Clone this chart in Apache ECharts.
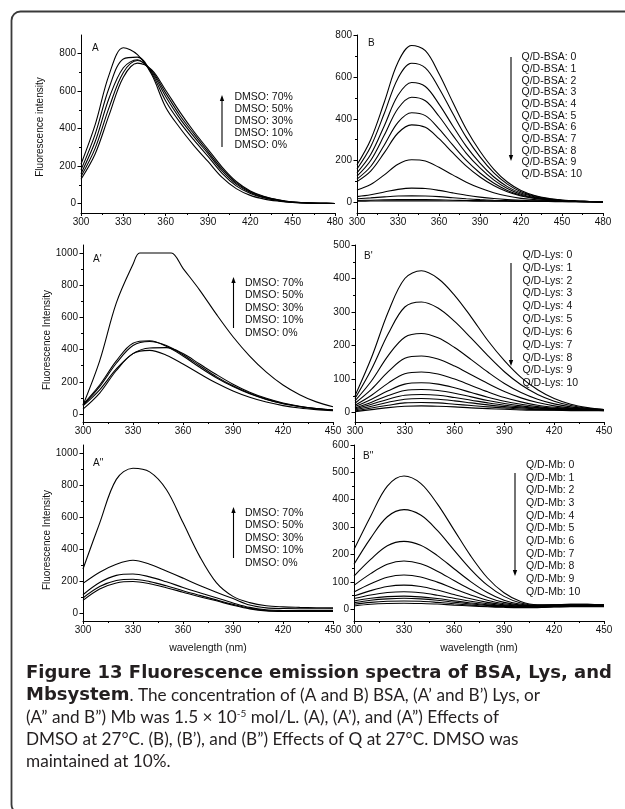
<!DOCTYPE html>
<html><head><meta charset="utf-8">
<script src="https://cdn.jsdelivr.net/npm/echarts@6/dist/echarts.min.js"></script>
<style>html,body{margin:0;padding:0;background:#fff}#c{width:625px;height:809px}</style>
</head><body><div id="c"></div>
<script>
// ---------- DATA ----------
const wlBSA = [300,310,320,330,340,350,360,370,380,390,400,410,420,430,440,450,460,470,480];
const wl = [300,310,320,330,340,350,360,370,380,390,400,410,420,430,440,450];
const wlLysDmso70 = [300,310,320,330,334,340,350,353,360,370,380,390,400,410,420,430,440,450];

// Panel A : BSA, DMSO effect
const bsaDmso70 = [210,420,690,832,795,690,515,405,310,225,140,80,44,24,13,6,3,2,1];
const bsaDmso50 = [180,370,620,772,782,697,548,435,340,252,162,95,54,30,16,7,3,2,1];
const bsaDmso30 = [160,330,565,725,768,704,572,455,358,267,175,104,60,33,17,8,4,2,1];
const bsaDmso10 = [145,295,515,700,764,710,590,472,372,278,185,111,64,36,19,8,4,2,1];
const bsaDmso0  = [130,265,475,675,750,715,605,490,385,290,195,118,68,38,20,9,4,2,1];

// Panel B : BSA, Q/D ratio
const bsaQ0  = [180,300,480,670,750,725,615,480,350,245,160,98,58,34,20,12,7,5,3];
const bsaQ1  = [160,266,426,594,665,643,546,426,311,218,143,88,52,31,18,11,7,5,3];
const bsaQ2  = [142,229,367,512,573,554,470,367,268,188,123,76,45,27,16,10,7,5,3];
const bsaQ3  = [126,201,322,449,503,486,412,322,235,165,108,67,40,24,15,10,7,5,3];
const bsaQ4  = [112,172,275,383,429,415,352,275,201,141,93,58,35,21,14,9,6,4,3];
const bsaQ5  = [100,150,238,332,371,359,305,238,174,122,81,51,31,19,13,8,6,4,3];
const bsaQ6  = [60,86,132,183,204,198,168,132,97,69,47,31,20,14,10,7,5,4,3];
const bsaQ7  = [28,37,50,63,69,67,58,46,35,26,19,14,11,8,7,6,5,4,3];
const bsaQ8  = [18,22,27,31,32,31,28,23,18,14,11,9,8,7,6,5,5,4,3];
const bsaQ9  = [10,11,13,14,14,14,13,11,10,9,8,7,6,6,5,5,4,4,3];
const bsaQ10 = [6,7,8,8,8,8,8,7,7,6,6,6,5,5,5,4,4,4,3];

// Panel A' : Lys, DMSO effect
const lysDmso70 = [55,330,690,930,1000,1000,1000,1000,905,770,620,480,360,260,180,120,75,45];
const lysDmso50 = [60,180,330,440,455,420,360,290,225,170,125,90,63,45,32,24];
const lysDmso30 = [55,170,315,425,450,425,368,300,232,175,128,92,65,46,33,24];
const lysDmso10 = [50,150,280,375,410,412,375,310,245,185,135,97,68,48,34,25];
const lysDmso0  = [30,130,270,375,395,365,310,250,192,143,104,74,52,37,27,20];

// Panel B' : Lys, Q/D ratio
const lysQ0  = [50,165,300,400,423,400,350,285,215,155,105,68,42,25,15,9];
const lysQ1  = [42,130,235,315,330,312,272,222,170,122,83,54,34,21,13,9];
const lysQ2  = [35,95,170,225,236,223,194,158,121,87,60,40,26,17,12,9];
const lysQ3  = [28,70,122,162,169,160,139,113,87,63,44,30,20,14,10,8];
const lysQ4  = [22,52,88,116,121,115,100,81,62,45,32,22,16,12,9,8];
const lysQ5  = [18,40,65,85,89,85,74,60,46,34,25,18,13,11,9,8];
const lysQ6  = [14,31,51,66,69,66,58,47,36,27,20,15,12,10,8,7];
const lysQ7  = [11,25,40,52,54,52,45,37,29,22,17,13,11,9,8,7];
const lysQ8  = [8,19,31,40,42,40,35,29,23,18,14,11,9,8,7,7];
const lysQ9  = [5,14,22,29,30,29,25,21,17,14,11,9,8,7,7,6];
const lysQ10 = [3,9,15,19,20,19,17,14,12,10,8,7,7,6,6,6];

// Panel A'' : Mb, DMSO effect
const mbDmso70 = [275,562,835,905,882,772,565,354,190,104,65,45,38,35,33,32];
const mbDmso50 = [185,255,305,330,305,262,218,172,130,90,50,32,28,27,27,27];
const mbDmso30 = [114,190,235,244,226,195,160,127,95,63,35,20,16,15,15,15];
const mbDmso10 = [94,165,203,211,196,170,139,110,82,54,30,16,13,12,12,12];
const mbDmso0  = [79,150,188,197,183,158,130,102,76,49,26,13,10,10,10,10];

// Panel B'' : Mb, Q/D ratio
const mbQ0  = [218,340,450,487,460,385,290,195,115,60,28,16,16,18,18,16];
const mbQ1  = [164,260,338,364,344,288,216,146,88,47,23,15,16,18,18,16];
const mbQ2  = [121,182,232,248,234,196,148,101,61,33,18,13,15,17,17,16];
const mbQ3  = [87,130,164,176,166,139,105,72,44,25,15,12,14,16,16,15];
const mbQ4  = [63,93,117,125,118,99,75,52,33,20,13,11,13,15,15,15];
const mbQ5  = [48,68,83,88,83,70,54,38,25,16,11,10,12,14,14,14];
const mbQ6  = [39,52,61,64,60,51,40,29,20,13,10,9,11,13,13,13];
const mbQ7  = [30,40,46,48,45,39,31,23,16,11,9,9,10,12,12,12];
const mbQ8  = [24,33,38,40,38,33,26,19,14,10,8,8,10,11,11,11];
const mbQ9  = [18,25,29,30,29,25,20,15,11,9,7,7,9,10,10,10];
const mbQ10 = [12,18,21,22,21,19,15,12,9,7,6,6,8,9,9,9];

// Tick values
const yMajorA   = [0,200,400,600,800];
const yMinorA   = [100,300,500,700];
const yMajorB   = [0,200,400,600,800];
const yMinorB   = [100,300,500,700];
const yMajorA1  = [0,200,400,600,800,1000];
const yMinorA1  = [100,300,500,700,900];
const yMajorB1  = [0,100,200,300,400,500];
const yMinorB1  = [50,150,250,350,450];
const yMajorA2  = [0,200,400,600,800,1000];
const yMinorA2  = [100,300,500,700,900];
const yMajorB2  = [0,100,200,300,400,500,600];
const yMinorB2  = [50,150,250,350,450,550];

// Legend / annotation text
const dmsoLabels = ['DMSO: 70%','DMSO: 50%','DMSO: 30%','DMSO: 10%','DMSO: 0%'];
const bsaLabels = ['Q/D-BSA: 0','Q/D-BSA: 1','Q/D-BSA: 2','Q/D-BSA: 3','Q/D-BSA: 4','Q/D-BSA: 5','Q/D-BSA: 6','Q/D-BSA: 7','Q/D-BSA: 8','Q/D-BSA: 9','Q/D-BSA: 10'];
const lysLabels = ['Q/D-Lys: 0','Q/D-Lys: 1','Q/D-Lys: 2','Q/D-Lys: 3','Q/D-Lys: 4','Q/D-Lys: 5','Q/D-Lys: 6','Q/D-Lys: 7','Q/D-Lys: 8','Q/D-Lys: 9','Q/D-Lys: 10'];
const mbLabels = ['Q/D-Mb: 0','Q/D-Mb: 1','Q/D-Mb: 2','Q/D-Mb: 3','Q/D-Mb: 4','Q/D-Mb: 5','Q/D-Mb: 6','Q/D-Mb: 7','Q/D-Mb: 8','Q/D-Mb: 9','Q/D-Mb: 10'];
const panelNames = ['A','B',"A'","B'",'A"','B"'];

// ---------- LAYOUT ----------
const FONT = '"Liberation Sans", Arial, Helvetica, sans-serif';
const CAP = 'Lato, "Open Sans", sans-serif';
const CAPB = '"DejaVu Sans", Lato, sans-serif';
const grids = [
  {left:81,  top:35,  width:254, height:178},
  {left:357, top:35,  width:246, height:178},
  {left:83,  top:245, width:250, height:177},
  {left:355, top:245, width:249, height:177},
  {left:83,  top:445, width:250, height:176},
  {left:354, top:445, width:250, height:176}
];
const xMax = [480,480,450,450,450,450];
const yMin = [-50,-50,-50,-28,-50,-43];
const yMax = [900,800,1050,500,1050,600];
const yMajor = [yMajorA,yMajorB,yMajorA1,yMajorB1,yMajorA2,yMajorB2];
const yMinor = [yMinorA,yMinorB,yMinorA1,yMinorB1,yMinorA2,yMinorB2];

const panels = [
  {x: wlBSA, ys: [bsaDmso70,bsaDmso50,bsaDmso30,bsaDmso10,bsaDmso0]},
  {x: wlBSA, ys: [bsaQ0,bsaQ1,bsaQ2,bsaQ3,bsaQ4,bsaQ5,bsaQ6,bsaQ7,bsaQ8,bsaQ9,bsaQ10]},
  {x: wl, ys: [lysDmso50,lysDmso30,lysDmso10,lysDmso0], extra: {x: wlLysDmso70, y: lysDmso70}},
  {x: wl, ys: [lysQ0,lysQ1,lysQ2,lysQ3,lysQ4,lysQ5,lysQ6,lysQ7,lysQ8,lysQ9,lysQ10]},
  {x: wl, ys: [mbDmso70,mbDmso50,mbDmso30,mbDmso10,mbDmso0]},
  {x: wl, ys: [mbQ0,mbQ1,mbQ2,mbQ3,mbQ4,mbQ5,mbQ6,mbQ7,mbQ8,mbQ9,mbQ10]}
];

const axisColor = '#000';
const xAxis = [], yAxis = [], series = [];
grids.forEach((g, i) => {
  xAxis.push({
    type:'value', gridIndex:i, min:300, max:xMax[i], interval:30,
    axisLine:{show:true, onZero:false, lineStyle:{color:axisColor, width:1}},
    axisTick:{show:true, length:3, lineStyle:{color:axisColor, width:1}},
    minorTick:{show:true, splitNumber:2, length:2, lineStyle:{color:axisColor, width:1}},
    axisLabel:{fontSize:10, margin:4, color:'#111', fontFamily:FONT, formatter: v => String(v)},
    splitLine:{show:false}, minorSplitLine:{show:false}
  });
  yAxis.push({
    type:'value', gridIndex:i, min:yMin[i], max:yMax[i], position:'left',
    axisLine:{show:true, onZero:false, lineStyle:{color:axisColor, width:1}},
    axisTick:{show:true, length:3.5, customValues:yMajor[i], lineStyle:{color:axisColor, width:1}},
    axisLabel:{customValues:yMajor[i], fontSize:10, margin:5, color:'#111', fontFamily:FONT, formatter: v => String(v)},
    splitLine:{show:false}
  });
  yAxis.push({
    type:'value', gridIndex:i, min:yMin[i], max:yMax[i], position:'left', offset:0,
    axisLine:{show:false},
    axisTick:{show:true, length:2, customValues:yMinor[i], lineStyle:{color:axisColor, width:1}},
    axisLabel:{show:false}, splitLine:{show:false}
  });
  const p = panels[i];
  const mk = (xs, ys) => ({
    type:'line', xAxisIndex:i, yAxisIndex:2*i,
    data: xs.map((w, j) => [w, ys[j]]),
    symbol:'none', showSymbol:false, smooth:0.35, silent:true, animation:false,
    lineStyle:{color:'#000', width:1.1}
  });
  if (p.extra) series.push(mk(p.extra.x, p.extra.y));
  p.ys.forEach(ys => series.push(mk(p.x, ys)));
});

// ---------- GRAPHIC ----------
const graphic = [];
graphic.push({type:'rect', shape:{x:11.5, y:11.5, width:640, height:802, r:9},
  style:{fill:null, stroke:'#3a3a3a', lineWidth:1.8}, silent:true});

const labelPos = [[92,48],[368,43],[93,259],[364,256],[93,463],[363,456]];
panelNames.forEach((t, i) => graphic.push({type:'text', x:labelPos[i][0], y:labelPos[i][1],
  style:{text:t, fontSize:10, fontFamily:FONT, fill:'#111', align:'left', verticalAlign:'middle',
         textAlign:'left', textVerticalAlign:'middle'}}));

function arrow(x, yTail, yHead) {
  const dir = yHead < yTail ? 1 : -1; // 1 = up
  graphic.push({type:'line', shape:{x1:x, y1:yTail, x2:x, y2:yHead + dir*4}, style:{stroke:'#000', lineWidth:1.1}});
  graphic.push({type:'polygon', shape:{points:[[x, yHead],[x-2.2, yHead + dir*6],[x+2.2, yHead + dir*6]]}, style:{fill:'#000'}});
}
arrow(222, 147, 95);
arrow(511, 57, 161);
arrow(233.5, 328, 277);
arrow(511, 263, 366);
arrow(233.5, 558, 507);
arrow(515, 473, 576);

function legend(x, y0, dy, labels) {
  graphic.push({type:'text', x:x, y:y0 - dy/2,
    style:{text:labels.join('\n'), lineHeight:dy, fontSize:10.5, fontFamily:FONT, fill:'#111',
           align:'left', verticalAlign:'top', textAlign:'left', textVerticalAlign:'top'}});
}
legend(234.5, 97.5, 12, dmsoLabels);
legend(521.5, 57.3, 11.67, bsaLabels);
legend(245, 282.7, 12.5, dmsoLabels);
legend(522.5, 255, 12.83, lysLabels);
legend(245, 512.7, 12.5, dmsoLabels);
legend(526, 465, 12.67, mbLabels);

function yName(x, y, t) {
  graphic.push({type:'text', x:x, y:y, rotation:Math.PI/2,
    style:{text:t, fontSize:10, fontFamily:FONT, fill:'#111', align:'center', verticalAlign:'middle',
           textAlign:'center', textVerticalAlign:'middle'}});
}
yName(40, 127, 'Fluorescence intensity');
yName(47, 340, 'Fluorescence Intensity');
yName(47, 540, 'Fluorescence Intensity');
function xName(x, y, t) {
  graphic.push({type:'text', x:x, y:y,
    style:{text:t, fontSize:10.5, fontFamily:FONT, fill:'#111', align:'center', verticalAlign:'middle',
           textAlign:'center', textVerticalAlign:'middle'}});
}
xName(208, 648, 'wavelength (nm)');
xName(479, 648, 'wavelength (nm)');

// caption
const capRich = {
  b:{fontFamily:CAPB, fontWeight:'bold', fontSize:18, fill:'#231f20', color:'#231f20'},
  r:{fontFamily:CAP, fontSize:17.2, fill:'#231f20', color:'#231f20'},
  s:{fontFamily:CAP, fontSize:10, fill:'#231f20', color:'#231f20', verticalAlign:'top', lineHeight:14}
};
const capLines = [
  '{b|Figure 13 Fluorescence emission spectra of BSA, Lys, and}',
  '{b|Mbsystem}{r|. The concentration of (A and B) BSA, (A\u2019 and B\u2019) Lys, or}',
  '{r|(A\u201D and B\u201D) Mb was 1.5 \u00D7 10}{s|-5}{r| mol/L. (A), (A\u2019), and (A\u201D) Effects of}',
  '{r|DMSO at 27\u00B0C. (B), (B\u2019), and (B\u201D) Effects of Q at 27\u00B0C. DMSO was}',
  '{r|maintained at 10%.}'
];
capLines.forEach((t, i) => graphic.push({type:'text', x:26, y:673 + i*22.2,
  style:{text:t, rich:capRich, align:'left', verticalAlign:'middle', textAlign:'left', textVerticalAlign:'middle'}}));

const chart = echarts.init(document.getElementById('c'), null, {renderer:'canvas', width:625, height:809});
chart.setOption({
  animation:false, backgroundColor:'#fff',
  grid: grids.map(g => Object.assign({containLabel:false}, g)),
  xAxis, yAxis, series, graphic
});
</script></body></html>
